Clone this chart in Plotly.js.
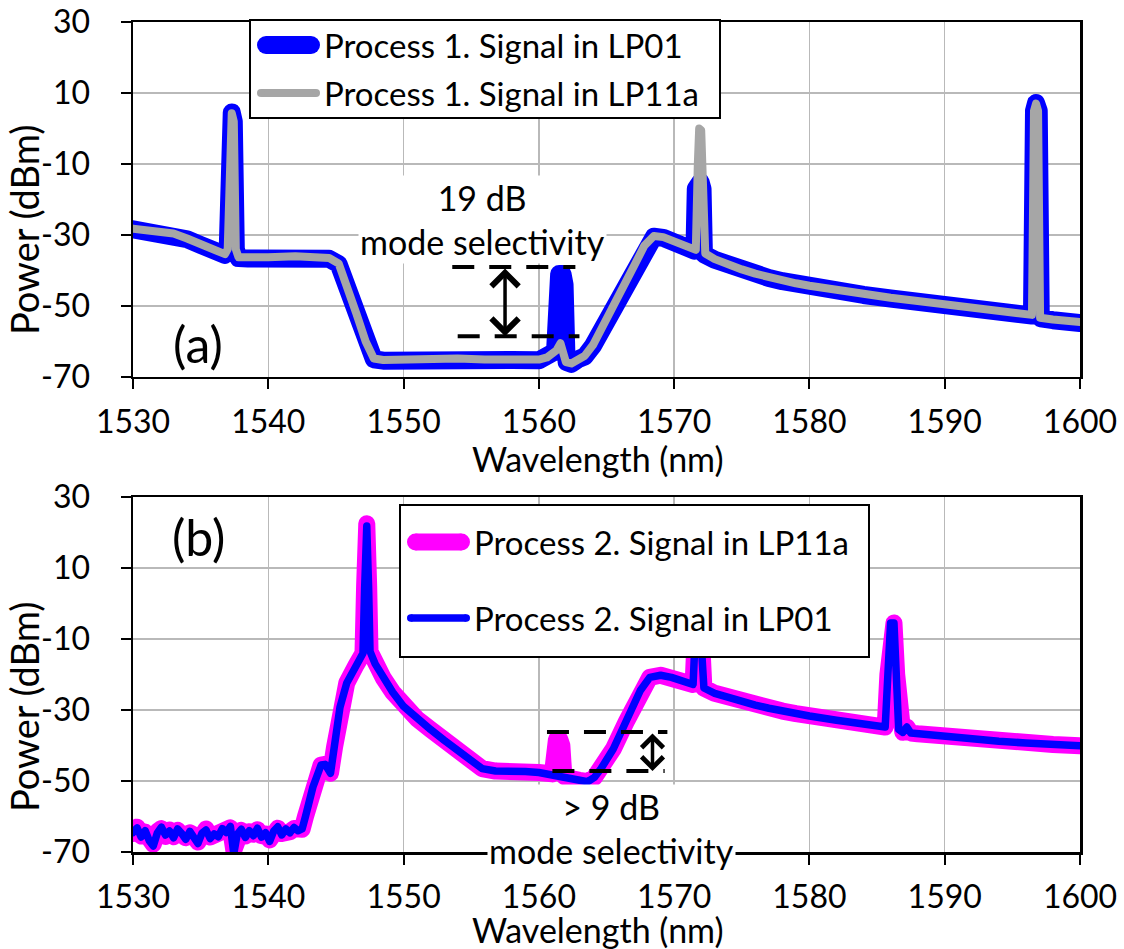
<!DOCTYPE html>
<html>
<head>
<meta charset="utf-8">
<script src="https://cdn.plot.ly/plotly-3.0.1.min.js"></script>
<style>
  html, body { margin: 0; padding: 0; background: #fff; }
  #chart { width: 1124px; height: 949px; }
  .scatterlayer path.js-line { stroke-linejoin: round; stroke-linecap: round; }
</style>
</head>
<body>
<div id="chart"></div>
<script>
// Axis ticks
const wavelengthTicks = [1530, 1540, 1550, 1560, 1570, 1580, 1590, 1600];
const powerTicks = [-70, -50, -30, -10, 10, 30];

// Process 1, signal launched in LP01 (blue)
const p1Lp01X = [1530, 1531, 1532, 1533, 1534, 1535, 1536, 1536.8, 1537.0, 1537.15,
  1537.3, 1537.45, 1537.6, 1537.8, 1538.5, 1540, 1542, 1543.5, 1544.5, 1545.2,
  1545.8, 1546.5, 1547.2, 1547.8, 1548.5, 1550, 1552, 1554, 1556, 1558,
  1560, 1560.6, 1561.0, 1561.2, 1561.35, 1561.5, 1561.75, 1561.9, 1562.05, 1562.4,
  1562.9, 1563.4, 1564, 1565, 1566, 1567, 1567.8, 1568.5, 1569.2, 1570,
  1571, 1571.5, 1571.6, 1571.75, 1571.95, 1572.1, 1572.2, 1573, 1574, 1575,
  1576, 1577, 1578, 1579, 1580, 1582, 1584, 1586, 1588, 1590,
  1592, 1594, 1596, 1596.45, 1596.6, 1596.75, 1596.95, 1597.1, 1598, 1599, 1600];
const p1Lp01Y = [-28.4, -28.8, -29.3, -29.8, -31.2, -32.8, -34.4, -35.6, -34, 2,
  4.5, 2, -34, -36.5, -36.6, -36.5, -36.2, -36.2, -36.7, -38.2,
  -44.2, -52.2, -60.2, -65.0, -65.4, -65.2, -65.4, -65.0, -65.3, -65.2,
  -65.3, -64.7, -63.2, -62.5, -42, -41, -41, -44, -65.8, -66.3,
  -65.0, -64.2, -61.2, -54.2, -46.7, -39.2, -33.2, -30.5, -30.8, -32.0,
  -33.5, -34.4, -17, -15, -15, -17, -35.4, -37.0, -38.6, -39.9,
  -41.1, -42.1, -43.0, -43.8, -44.5, -45.8, -46.9, -47.9, -48.8, -49.7,
  -50.6, -51.5, -52.4, -52.7, 5, 7.2, 5, -53.5, -54.0, -54.4, -54.8];

// Process 1, signal launched in LP11a (grey)
const p1Lp11aX = [1530, 1531, 1532, 1533, 1534, 1535, 1536, 1536.8, 1537.0, 1537.15,
  1537.3, 1537.45, 1537.6, 1537.8, 1538.5, 1540, 1542, 1543.5, 1544.5, 1545.2,
  1545.8, 1546.5, 1547.2, 1547.8, 1548.5, 1550, 1552, 1554, 1556, 1558,
  1560, 1560.6, 1561.0, 1561.3, 1561.6, 1561.8, 1562.0, 1562.4, 1562.9, 1563.4,
  1564, 1565, 1566, 1567, 1567.8, 1568.5, 1569.2, 1570, 1571, 1571.6,
  1571.75, 1571.85, 1572.0, 1572.15, 1572.3, 1573, 1574, 1575, 1576, 1577,
  1578, 1579, 1580, 1582, 1584, 1586, 1588, 1590, 1592, 1594,
  1596, 1596.45, 1596.6, 1596.75, 1596.9, 1597.05, 1598, 1599, 1600];
const p1Lp11aY = [-28.2, -28.6, -29.1, -29.6, -31.0, -32.6, -34.2, -35.4, -34, 2,
  4.3, 2, -34, -36.3, -36.4, -36.3, -36.0, -36.0, -36.5, -38,
  -44, -52, -60, -64.8, -65.2, -65.0, -65.2, -64.8, -65.1, -65.0,
  -65.1, -64.5, -63.0, -62.5, -60.5, -62.5, -65.8, -66.2, -64.8, -64.0,
  -61, -54, -46.5, -39, -33, -30.3, -30.6, -31.8, -33.3, -34.2,
  -10, 0, -0.5, -20, -35.2, -36.8, -38.4, -39.7, -40.9, -41.9,
  -42.8, -43.6, -44.3, -45.6, -46.7, -47.7, -48.6, -49.5, -50.4, -51.3,
  -52.2, -52.5, 5, 7, 5, -53.3, -53.8, -54.1, -54.5];

// Process 2, signal launched in LP11a (magenta)
const p2Lp11aX = [1530.0, 1530.3, 1530.6, 1530.9, 1531.2, 1531.5, 1531.8, 1532.1, 1532.4, 1532.7,
  1533.0, 1533.3, 1533.6, 1533.9, 1534.2, 1534.5, 1534.8, 1535.1, 1535.4, 1535.7,
  1536.0, 1536.3, 1536.6, 1536.9, 1537.2, 1537.45, 1537.7, 1538.0, 1538.3, 1538.6,
  1538.9, 1539.2, 1539.5, 1539.8, 1540.1, 1540.4, 1540.7, 1541.0, 1541.3, 1541.6,
  1541.9, 1542.2, 1542.5, 1542.75, 1543.3, 1543.9, 1544.2, 1544.6, 1544.9, 1545.3,
  1545.8, 1546.5, 1547.0, 1547.12, 1547.28, 1547.42, 1547.52, 1547.9, 1548.5, 1549.2,
  1550, 1551, 1552, 1553, 1554, 1555, 1555.8, 1556.8, 1558, 1559,
  1560, 1561.0, 1561.15, 1561.3, 1561.55, 1561.7, 1561.85, 1562, 1563, 1563.6,
  1564.1, 1564.6, 1565.5, 1566.5, 1567.5, 1568.2, 1569, 1569.8, 1570.6, 1571.4,
  1571.55, 1571.7, 1571.9, 1572.05, 1572.2, 1573, 1574, 1575, 1576, 1577,
  1578, 1579, 1580, 1582, 1584, 1585.6, 1585.8, 1586.0, 1586.25, 1586.45,
  1586.6, 1586.9, 1587.2, 1587.5, 1588, 1590, 1592, 1594, 1596, 1598, 1600];
const p2Lp11aY = [-64.8, -63.0, -65.5, -64.4, -66.2, -67.8, -64.2, -63.4, -65.6, -63.8,
  -65.7, -63.9, -65.1, -66.0, -64.6, -65.2, -67.2, -65.0, -63.5, -65.8,
  -65.2, -65.3, -63.8, -64.2, -63.2, -69.5, -64.6, -63.9, -65.5, -64.3,
  -65.0, -63.7, -65.4, -64.9, -66.6, -64.4, -63.3, -64.8, -63.8, -64.3,
  -63.4, -63.8, -63.6, -60, -51.7, -45.5, -45.3, -47.8, -40.4, -29.2,
  -22.4, -17.3, -14.0, 5, 22.5, 5, -13.5, -17, -21, -25,
  -29, -32.5, -35.5, -38.5, -41.5, -44.5, -46.5, -47.2, -47.0, -47.3,
  -47.6, -48.0, -40, -38.3, -38.3, -40, -48.6, -49.0, -49.8, -50.2,
  -49.0, -46.5, -41, -33, -24.5, -20.8, -20.2, -20.8, -21.8, -22.8,
  -10, -5, -5, -12, -23.8, -25.3, -26.5, -27.6, -28.6, -29.5,
  -30.3, -31.0, -31.7, -32.9, -34.0, -34.8, -20, -5.5, -5.5, -20,
  -35.5, -36.3, -34.8, -36.5, -36.7, -37.5, -38.2, -38.8, -39.3, -39.7, -40.1];

// Process 2, signal launched in LP01 (blue)
const p2Lp01X = [1530.0, 1530.3, 1530.6, 1530.9, 1531.2, 1531.5, 1531.8, 1532.1, 1532.4, 1532.7,
  1533.0, 1533.3, 1533.6, 1533.9, 1534.2, 1534.5, 1534.8, 1535.1, 1535.4, 1535.7,
  1536.0, 1536.3, 1536.6, 1536.9, 1537.2, 1537.45, 1537.7, 1538.0, 1538.3, 1538.6,
  1538.9, 1539.2, 1539.5, 1539.8, 1540.1, 1540.4, 1540.7, 1541.0, 1541.3, 1541.6,
  1541.9, 1542.2, 1542.5, 1542.75, 1543.3, 1543.9, 1544.2, 1544.6, 1544.9, 1545.3,
  1545.8, 1546.5, 1547.0, 1547.12, 1547.28, 1547.42, 1547.52, 1547.9, 1548.5, 1549.2,
  1550, 1551, 1552, 1553, 1554, 1555, 1555.8, 1556.8, 1558, 1559,
  1560, 1561, 1562, 1563, 1563.6, 1564.1, 1564.6, 1565.5, 1566.5, 1567.5,
  1568.2, 1569, 1569.8, 1570.6, 1571.4, 1571.55, 1571.7, 1571.9, 1572.05, 1572.2,
  1573, 1574, 1575, 1576, 1577, 1578, 1579, 1580, 1582, 1584,
  1585.6, 1585.8, 1586.0, 1586.25, 1586.45, 1586.6, 1586.9, 1587.2, 1587.5, 1588,
  1590, 1592, 1594, 1596, 1598, 1600];
const p2Lp01Y = [-64.5, -63.2, -65.8, -64.0, -66.8, -68.3, -64.6, -63.0, -65.2, -64.1,
  -66.0, -63.5, -64.8, -66.4, -64.2, -65.5, -67.6, -64.7, -63.8, -66.2,
  -64.9, -65.7, -63.4, -64.5, -62.8, -70.5, -65.0, -63.6, -65.9, -64.0,
  -65.4, -63.3, -65.8, -64.6, -67.0, -64.1, -62.9, -65.2, -63.5, -64.6,
  -63.1, -64.0, -63.5, -60, -51.7, -45.5, -45.3, -47.8, -40.4, -29.2,
  -22.4, -17.3, -14.0, 4, 21.8, 4, -13.5, -17, -21, -25,
  -29, -32.5, -35.5, -38.5, -41.5, -44.5, -46.5, -47.2, -47.0, -47.3,
  -47.6, -48.2, -49.0, -49.8, -50.2, -49.0, -46.5, -41, -33, -24.5,
  -20.8, -20.2, -20.8, -21.8, -22.8, -10, -5, -5, -12, -23.8,
  -25.3, -26.5, -27.6, -28.6, -29.5, -30.3, -31.0, -31.7, -32.9, -34.0,
  -34.8, -20, -5.5, -5.5, -20, -35.5, -36.3, -34.8, -36.5, -36.7,
  -37.5, -38.2, -38.8, -39.3, -39.7, -40.1];

const FONT = 'Lato, "Open Sans", sans-serif';
const GRID = '#b9b9b9';

// Series styles (shared by the traces and their legend keys)
const styleP1Lp01 = { color: '#0000ff', width: 18 };
const styleP1Lp11a = { color: '#a6a6a6', width: 8 };
const styleP2Lp11a = { color: '#ff00ff', width: 17 };
const styleP2Lp01 = { color: '#0000ff', width: 7.5 };

// Pixel -> paper helpers for the fixed 1124x949 figure (plot area x 133..1080, y 22..852)
const PX = (px) => (px - 133) / 947;
const PY = (py) => (852 - py) / 830;

function xAxis(anchor) {
  return {
    anchor: anchor, domain: [0, 1], range: [1530, 1600],
    tickmode: 'array', tickvals: wavelengthTicks, ticktext: wavelengthTicks.map(String),
    showgrid: true, gridcolor: GRID, gridwidth: 1.5, zeroline: false,
    showline: true, linecolor: '#000', linewidth: 2.5, mirror: true,
    ticks: 'outside', ticklen: 10, tickwidth: 2, tickcolor: '#000',
    tickfont: { size: 32, color: '#000' }, ticklabelstandoff: 5, fixedrange: true
  };
}
function yAxis(anchor, domain) {
  return {
    anchor: anchor, domain: domain, range: [-70, 30],
    tickmode: 'array', tickvals: powerTicks, ticktext: powerTicks.map(String),
    showgrid: true, gridcolor: GRID, gridwidth: 1.5, zeroline: false,
    showline: true, linecolor: '#000', linewidth: 2.5, mirror: true,
    ticks: 'outside', ticklen: 10, tickwidth: 2, tickcolor: '#000',
    tickfont: { size: 32, color: '#000' }, ticklabelstandoff: 24, fixedrange: true
  };
}

const traces = [
  { x: p1Lp01X, y: p1Lp01Y, xaxis: 'x', yaxis: 'y', mode: 'lines', name: 'Process 1. Signal in LP01',
    line: styleP1Lp01, showlegend: false, hoverinfo: 'skip' },
  { x: p1Lp11aX, y: p1Lp11aY, xaxis: 'x', yaxis: 'y', mode: 'lines', name: 'Process 1. Signal in LP11a',
    line: styleP1Lp11a, showlegend: false, hoverinfo: 'skip' },
  { x: p2Lp11aX, y: p2Lp11aY, xaxis: 'x2', yaxis: 'y2', mode: 'lines', name: 'Process 2. Signal in LP11a',
    line: styleP2Lp11a, showlegend: false, hoverinfo: 'skip' },
  { x: p2Lp01X, y: p2Lp01Y, xaxis: 'x2', yaxis: 'y2', mode: 'lines', name: 'Process 2. Signal in LP01',
    line: styleP2Lp01, showlegend: false, hoverinfo: 'skip' }
];

function label(text, x, y, size, extra) {
  return Object.assign({ text: text, xref: 'paper', yref: 'paper', x: x, y: y,
    xanchor: 'center', yanchor: 'middle', showarrow: false,
    font: { family: FONT, size: size, color: '#000' } }, extra || {});
}
function doubleArrow(xr, yr, x, yLow, yHigh, size) {
  return { xref: xr, yref: yr, axref: xr, ayref: yr, x: x, y: yLow, ax: x, ay: yHigh,
    text: '', showarrow: true, arrowside: 'end+start', arrowhead: 4, startarrowhead: 4,
    arrowsize: size, startarrowsize: size, arrowwidth: 3.5, arrowcolor: '#000',
    standoff: 0, startstandoff: 0 };
}
function dashed(xr, yr, x0, x1, y) {
  return { type: 'line', xref: xr, yref: yr, x0: x0, x1: x1, y0: y, y1: y,
    line: { color: '#000', width: 4, dash: '22px,15px' } };
}

// Legend boxes: frame, key line with round ends, and entry text
function legendFrame(x0, x1, y0, y1) {
  return { type: 'rect', xref: 'paper', yref: 'paper', x0: PX(x0), x1: PX(x1), y0: PY(y1), y1: PY(y0),
    fillcolor: '#fff', line: { color: '#000', width: 2 } };
}
function legendKey(style, xLeft, xRight, yMid) {
  const r = style.width / 2;
  const cap = (cx) => ({ type: 'circle', xref: 'paper', yref: 'paper', xsizemode: 'pixel', ysizemode: 'pixel',
    xanchor: PX(cx), yanchor: PY(yMid), x0: -r, x1: r, y0: -r, y1: r,
    fillcolor: style.color, line: { width: 0 } });
  return [
    { type: 'line', xref: 'paper', yref: 'paper', x0: PX(xLeft + r), x1: PX(xRight - r), y0: PY(yMid), y1: PY(yMid),
      line: { color: style.color, width: style.width } },
    cap(xLeft + r), cap(xRight - r)
  ];
}
function legendText(text, xLeft, yMid) {
  return label(text, PX(xLeft), PY(yMid), 33, { xanchor: 'left' });
}

const layout = {
  width: 1124, height: 949,
  margin: { l: 133, r: 44, t: 22, b: 97, pad: 0 },
  paper_bgcolor: '#fff', plot_bgcolor: '#fff',
  font: { family: FONT, color: '#000' },
  showlegend: false,
  xaxis: xAxis('y'),
  yaxis: yAxis('x', [0.5723, 1]),
  xaxis2: xAxis('y2'),
  yaxis2: yAxis('x2', [0, 0.4277]),
  shapes: [
    dashed('x', 'y', 1553.6, 1562.7, -39.0),
    dashed('x', 'y', 1554.0, 1563.0, -58.5),
    dashed('x2', 'y2', 1560.6, 1569.5, -36.2),
    dashed('x2', 'y2', 1561.0, 1569.3, -47.2),
    legendFrame(250, 720, 20, 118),
    ...legendKey(styleP1Lp01, 257, 320, 45),
    ...legendKey(styleP1Lp11a, 257, 320, 93),
    legendFrame(400, 869, 505, 657),
    ...legendKey(styleP2Lp11a, 407, 470, 542),
    ...legendKey(styleP2Lp01, 407, 470, 618)
  ],
  annotations: [
    label('Power (dBm)', PX(24), PY(230), 38, { textangle: -90 }),
    label('Power (dBm)', PX(24), PY(707), 38, { textangle: -90 }),
    label('Wavelength (nm)', PX(598), PY(459), 34),
    label('Wavelength (nm)', PX(598), PY(929), 34),
    label('(a)', PX(198), PY(344), 50),
    label('(b)', PX(198), PY(537), 50),
    label('19 dB<br>mode selectivity', PX(482), PY(219), 34, { bgcolor: '#fff', borderpad: 1 }),
    label('&gt; 9 dB<br>mode selectivity', PX(611), PY(828), 34, { bgcolor: '#fff', borderpad: 1 }),
    legendText('Process 1. Signal in LP01', 322, 45),
    legendText('Process 1. Signal in LP11a', 322, 93),
    legendText('Process 2. Signal in LP11a', 472, 542),
    legendText('Process 2. Signal in LP01', 472, 618),
    doubleArrow('x', 'y', 1557.5, -58.5, -39.0, 1.5),
    doubleArrow('x2', 'y2', 1568.4, -47.2, -36.2, 1.2)
  ]
};

Plotly.newPlot('chart', traces, layout, { displayModeBar: false, staticPlot: true });
</script>
</body>
</html>
